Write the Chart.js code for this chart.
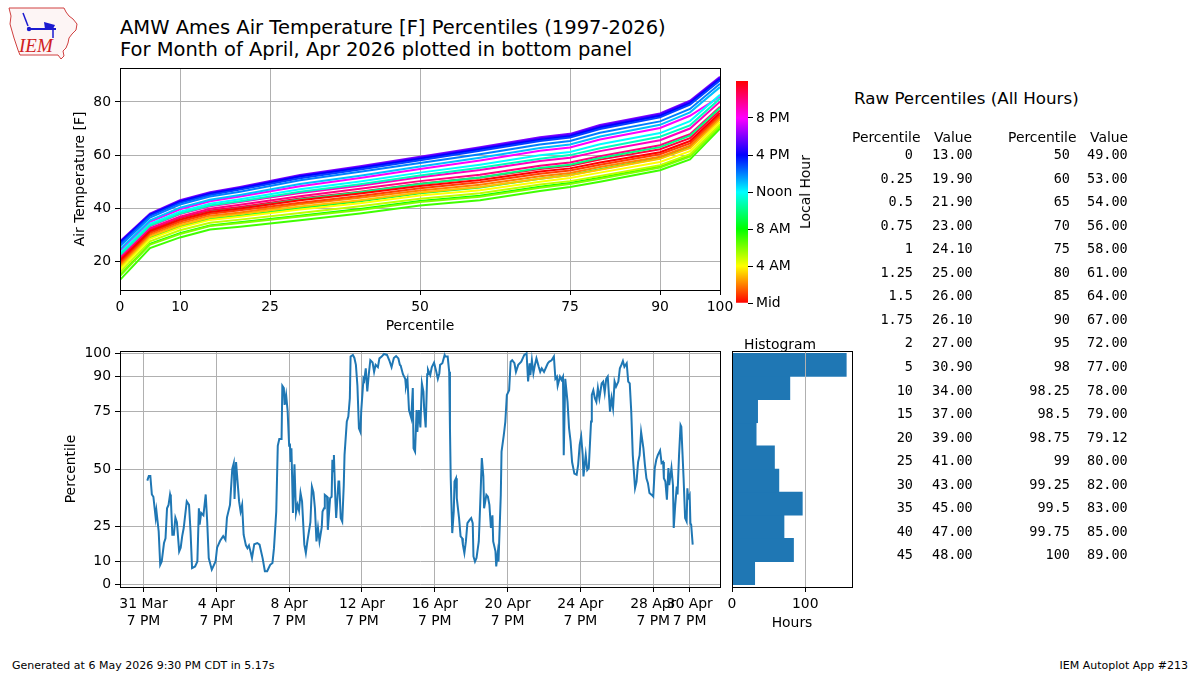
<!DOCTYPE html>
<html>
<head>
<meta charset="utf-8">
<title>AMW Ames Air Temperature Percentiles</title>
<script src="https://cdn.jsdelivr.net/npm/chart.js@4.4.1/dist/chart.umd.min.js"></script>
<style>
  body { margin: 0; background: #fff; font-family: "DejaVu Sans", sans-serif; color: #000; }
  #page { position: relative; width: 1200px; height: 675px; overflow: hidden; background: #fff; }
  canvas { position: absolute; }
  .txt { position: absolute; white-space: nowrap; }
  .title { left: 120px; font-size: 19.5px; line-height: 22px; }
  .mono { font-family: "DejaVu Sans Mono", monospace; font-size: 13.5px; line-height: 16px; }
  .sans { font-size: 13.9px; line-height: 16px; }
</style>
</head>
<body>
<div id="page">
  <svg class="txt" style="left:6px;top:4px" width="76" height="56" viewBox="0 0 76 56">
    <path d="M3,4 L58,4 L60,8 L63,12 L67,15 L71,20 L70,26 L66,30 L63,34 L62,39 L60,44 L57,47 L58,52 L55,55 L52,51 L14,51 L12,46 L10,40 L8,34 L6,27 L4,20 L5,12 Z"
          fill="#fdf5f5" stroke="#d04040" stroke-width="1"/>
    <line x1="17" y1="9" x2="22" y2="22" stroke="#1a1ad0" stroke-width="1.5"/>
    <circle cx="23" cy="25" r="2.2" fill="#1a1ad0"/>
    <line x1="23" y1="25" x2="50" y2="25" stroke="#1a1ad0" stroke-width="2"/>
    <polygon points="38,18 49,21 47,25 39,25" fill="#1a1ad0"/>
    <line x1="47" y1="25" x2="47" y2="34" stroke="#1a1ad0" stroke-width="1.5"/>
    <text x="13" y="48" font-family="Liberation Serif" font-style="italic" font-size="19" fill="#d02020">IEM</text>
  </svg>
  <div class="txt title" style="top:17px">AMW Ames Air Temperature [F] Percentiles (1997-2026)</div>
  <div class="txt title" style="top:39px">For Month of April, Apr 2026 plotted in bottom panel</div>

  <canvas id="topChart" width="745" height="275" style="left:0px;top:60px;width:745px;height:275px"></canvas>
  <canvas id="barChart" width="100" height="250" style="left:725px;top:70px;width:100px;height:250px"></canvas>
  <div class="txt sans" style="left:805px;top:192px;transform:translate(-50%,-50%) rotate(-90deg)">Local Hour</div>

  <canvas id="seriesChart" width="730" height="300" style="left:0px;top:340px;width:730px;height:300px"></canvas>
  <canvas id="histChart" width="135" height="300" style="left:725px;top:340px;width:135px;height:300px"></canvas>
  <div class="txt sans" style="left:744px;top:336px">Histogram</div>

  <div class="txt" style="left:854px;top:88px;font-size:16.7px;line-height:20px">Raw Percentiles (All Hours)</div>
  <div id="table"></div>

  <div class="txt" style="left:12px;top:659px;font-size:11px;line-height:14px">Generated at 6 May 2026 9:30 PM CDT in 5.17s</div>
  <div class="txt" style="right:12px;top:659px;font-size:11px;line-height:14px">IEM Autoplot App #213</div>
</div>

<script>
// Top panel: hourly temperature percentile curves
const topPercentiles = [0, 5, 10, 15, 20, 30, 40, 50, 60, 70, 75, 80, 90, 95, 100];
const topXTicks = [0, 10, 25, 50, 75, 90, 100];
const topYTicks = [20, 40, 60, 80];

const h00 = [20.3, 31.4, 35.7, 38.6, 39.9, 43.0, 45.5, 48.4, 50.6, 53.8, 55.0, 57.2, 61.1, 65.3, 75.9];
const h01 = [19.5, 30.7, 35.0, 37.9, 39.2, 42.1, 44.6, 47.5, 49.8, 53.0, 54.2, 56.4, 60.3, 64.4, 75.1];
const h02 = [18.8, 30.1, 34.3, 37.2, 38.4, 41.5, 43.9, 46.7, 48.8, 52.0, 53.3, 55.5, 59.4, 63.5, 74.3];
const h03 = [18.1, 29.4, 33.6, 36.5, 37.8, 40.6, 43.0, 45.9, 48.0, 51.1, 52.4, 54.5, 58.6, 62.6, 73.5];
const h04 = [17.1, 28.5, 32.7, 35.6, 36.8, 39.5, 41.9, 44.8, 46.8, 50.0, 51.4, 53.4, 57.4, 61.5, 72.5];
const h05 = [15.9, 27.5, 31.7, 34.5, 35.7, 38.2, 40.7, 43.6, 45.6, 48.9, 50.2, 52.1, 56.2, 60.3, 71.6];
const h06 = [14.5, 26.3, 30.3, 33.3, 34.4, 36.9, 39.3, 42.3, 44.3, 47.7, 49.1, 51.1, 55.3, 59.4, 70.8];
const h07 = [13.0, 25.0, 29.0, 32.0, 33.0, 35.5, 38.0, 41.0, 43.0, 46.5, 48.0, 50.0, 54.3, 58.4, 70.0];
const h08 = [14.7, 26.6, 30.6, 33.5, 34.7, 37.2, 39.7, 42.7, 44.7, 48.1, 49.5, 51.5, 55.7, 59.8, 71.2];
const h09 = [17.4, 28.9, 33.1, 36.0, 37.2, 40.1, 42.6, 45.6, 47.8, 51.1, 52.5, 54.7, 58.8, 62.9, 73.9];
const h10 = [20.0, 31.2, 35.6, 38.6, 39.9, 43.3, 46.0, 49.1, 51.6, 55.1, 56.4, 58.9, 63.0, 67.3, 77.8];
const h11 = [22.4, 33.5, 38.0, 41.0, 42.6, 46.2, 49.0, 52.3, 55.2, 58.6, 60.0, 62.6, 66.9, 71.2, 81.3];
const h12 = [23.2, 34.1, 38.7, 41.7, 43.4, 47.1, 50.1, 53.4, 56.4, 59.9, 61.2, 64.1, 68.3, 72.8, 82.7];
const h13 = [24.6, 35.4, 40.2, 43.2, 45.0, 49.1, 52.2, 55.7, 59.0, 62.7, 64.0, 67.0, 71.4, 76.1, 85.6];
const h14 = [25.8, 36.5, 41.4, 44.4, 46.2, 50.5, 53.7, 57.0, 60.3, 64.0, 65.3, 68.4, 72.7, 77.4, 86.9];
const h15 = [26.5, 37.1, 42.0, 45.0, 47.0, 51.3, 54.6, 58.1, 61.6, 65.3, 66.6, 69.8, 74.2, 79.0, 88.1];
const h16 = [27.0, 37.5, 42.5, 45.5, 47.4, 51.9, 55.1, 58.6, 62.2, 65.8, 67.1, 70.4, 74.8, 79.6, 88.6];
const h17 = [27.2, 37.7, 42.7, 45.7, 47.7, 52.2, 55.4, 59.0, 62.6, 66.3, 67.6, 70.9, 75.3, 80.1, 89.1];
const h18 = [27.5, 38.0, 43.0, 46.0, 48.0, 52.5, 55.8, 59.4, 63.0, 66.7, 68.0, 71.3, 75.7, 80.5, 89.5];
const h19 = [27.0, 37.5, 42.5, 45.5, 47.4, 51.9, 55.1, 58.6, 62.2, 65.8, 67.1, 70.4, 74.8, 79.6, 88.6];
const h20 = [24.0, 34.9, 39.6, 42.6, 44.4, 48.3, 51.4, 54.8, 58.0, 61.6, 62.9, 65.9, 70.2, 74.8, 82.0];
const h21 = [22.3, 33.2, 37.8, 40.7, 42.3, 45.7, 48.5, 51.7, 54.4, 57.8, 59.0, 61.5, 65.6, 70.0, 80.1];
const h22 = [21.4, 32.4, 36.8, 39.8, 41.3, 44.5, 47.3, 50.2, 52.6, 56.0, 57.2, 59.6, 63.7, 67.9, 78.2];
const h23 = [20.8, 31.9, 36.3, 39.1, 40.5, 43.7, 46.2, 49.2, 51.6, 54.8, 56.0, 58.3, 62.2, 66.4, 76.8];
const hourTemps = [h00, h01, h02, h03, h04, h05, h06, h07, h08, h09, h10, h11,
                   h12, h13, h14, h15, h16, h17, h18, h19, h20, h21, h22, h23];

// Colorbar
const colorbarTicks = [0, 4, 8, 12, 16, 20];
const colorbarLabels = ["Mid", "4 AM", "8 AM", "Noon", "4 PM", "8 PM"];

// Bottom panel: hourly percentile for April 2026 (hours since 1 Apr 00 local)
const seriesHour = [0, 2, 4, 6, 8, 11, 12, 13, 15, 17, 19, 22, 24, 26, 28, 30, 31, 33, 35, 37, 39, 42, 44, 46, 48,
  52, 55, 57, 59, 63, 66, 68, 69, 71, 74, 77, 79, 81, 85, 90, 92, 96, 100, 103, 105, 109, 112, 114, 115, 117, 118,
  121, 123, 125, 127, 130, 132, 134, 136, 138, 141, 145, 148, 152, 155, 158, 162, 165, 167, 170, 172, 174, 177, 178,
  180, 181, 183, 185, 187, 188, 189, 190, 192, 194, 196, 198, 200, 202, 204, 207, 209, 211, 215, 217, 219, 221, 223,
  225, 227, 230, 231, 233, 234, 237, 238, 241, 243, 244, 245, 246, 248, 249, 252, 253, 255, 257, 259, 260, 263, 265,
  267, 268, 271, 273, 275, 277, 279, 281, 282, 285, 286, 288, 290, 292, 294, 297, 299, 301, 304, 306, 309, 312, 316,
  319, 322, 325, 328, 331, 333, 334, 337, 340, 341, 343, 345, 348, 350, 351, 353, 355, 356, 358, 360, 362, 364, 365,
  367, 369, 370, 373, 375, 378, 381, 383, 385, 386, 389, 392, 393, 396, 398, 399, 400, 402, 404, 405, 407, 408, 411,
  413, 415, 416, 418, 420, 422, 425, 427, 429, 430, 432, 434, 437, 439, 441, 443, 444, 447, 449, 451, 453, 455, 456,
  459, 460, 462, 463, 466, 467, 470, 472, 474, 477, 479, 481, 484, 486, 489, 493, 497, 500, 502, 504, 505, 507, 509,
  511, 513, 516, 518, 520, 523, 526, 528, 530, 533, 536, 538, 540, 541, 544, 546, 548, 549, 551, 554, 556, 558, 560,
  563, 566, 568, 570, 572, 574, 575, 578, 580, 582, 585, 586, 588, 590, 592, 594, 596, 599, 601, 603, 605, 607, 610,
  612, 614, 616, 618, 621, 623, 625, 627, 629, 632, 634, 636, 638, 640, 643, 645, 647, 649, 651, 654, 656, 658, 660,
  662, 665, 667, 669, 671, 673, 676, 678, 680, 681, 683, 685, 687, 688, 691, 693, 694, 696, 698, 699, 701, 703, 704,
  707, 709, 711, 712, 713, 715, 716, 717, 719];
const seriesPct = [45, 47, 47, 39, 38, 29, 32, 29, 23, 8.6, 10, 18, 20, 33, 34.5, 39, 37.5, 21.6, 21.6, 29, 27, 14.4, 16, 21, 24.5,
  36, 34.5, 23, 7.2, 7.9, 10, 33, 26, 31, 30, 39, 27, 11.5, 6.5, 10, 16, 19, 21, 19.4, 29, 34.5, 50, 52.5, 37, 53, 53,
  36, 31.6, 34.5, 21.6, 17, 15.8, 17, 14.4, 11.5, 17.5, 18, 17.3, 11.5, 5.8, 5.8, 8.6, 9.4, 15.8, 31.6, 60, 63, 63, 86,
  85, 77.7, 82, 75, 60, 61, 53, 59, 31, 52, 31, 34.5, 32, 39.6, 36, 17.3, 13.7, 18.7, 27, 42.4, 40, 33, 18.7,
  24.5, 18.7, 25, 31.6, 33, 38.8, 38, 23.7, 37.4, 38, 54, 49, 56, 36, 28.8, 44.6, 44.6, 28.8, 27.3, 43, 56, 70.5, 72.7,
  80.6, 98.6, 99.3, 98, 95, 86, 67.6, 66, 75, 89, 88.3, 93.5, 83.5, 91, 97, 96, 92, 95, 94, 97.8, 98.6, 99.7, 99.3,
  97, 94, 98, 98.8, 97.8, 95, 94.7, 91, 89, 85.6, 88.5, 75.5, 72, 85, 59, 57.5, 75.5, 66, 75.5, 68, 87, 83.5, 76,
  68, 91, 93, 90.6, 94, 96, 92, 89, 91.4, 95, 95.7, 99.3, 98.6, 98.6, 92, 67.6, 46, 22.3, 31.6, 44.6, 46, 37.4, 28.8,
  20.9, 20.1, 17.3, 13.7, 18.7, 26.6, 28, 28.8, 26.6, 12.2, 10, 11.5, 18.7, 36, 54.7, 46.8, 33, 38.8, 38, 34.5, 24.5, 30, 18.7,
  14.4, 7.9, 13.7, 10, 38.8, 57.5, 64.7, 70.5, 82, 84, 96.4, 97, 95.7, 92, 95, 96.4, 99.3, 100, 87.8, 95.7, 90.6, 97, 91.4,
  95, 97.8, 94.2, 92, 93.5, 92, 94.2, 95.7, 96.4, 97, 98.6, 89, 89.9, 86, 89.9, 88.5, 89.9, 56, 89, 79, 67.6, 62, 53,
  48, 47.5, 51.8, 60.4, 64, 56, 46.8, 56, 49.6, 50.4, 70.5, 82, 84, 80.6, 79, 85, 80.6, 87, 87.8, 83, 89, 90, 74.8,
  80.6, 76.3, 87.8, 85.6, 87.8, 93.5, 95, 96.7, 94.2, 95.7, 87.8, 87, 74.8, 56, 41.7, 44.6, 53, 56, 66, 59, 51.8, 46, 43.9,
  39.6, 38.8, 38.1, 50.4, 54, 56, 58, 52.5, 53, 46, 44.6, 36.7, 50.4, 43, 50.4, 43, 24.5, 34.5, 42.4, 39, 56, 69, 68.3,
  46, 28.8, 27.3, 41.7, 37.4, 38.8, 26.6, 25.9, 17.3];
const seriesXTicks = [-5, 91, 187, 283, 379, 475, 571, 667, 715];
const seriesXLabels = [["31 Mar", "7 PM"], ["4 Apr", "7 PM"], ["8 Apr", "7 PM"], ["12 Apr", "7 PM"], ["16 Apr", "7 PM"],
  ["20 Apr", "7 PM"], ["24 Apr", "7 PM"], ["28 Apr", "7 PM"], ["30 Apr", "7 PM"]];
const seriesYTicks = [0, 10, 25, 50, 75, 90, 100];

// Histogram of hours per 10-percentile bin
const histBinCenters = [5, 15, 25, 35, 45, 55, 65, 75, 85, 95];
const histHours = [31, 84, 71, 96, 64, 58, 33, 35, 79, 156];
const histXTicks = [0, 100];

// Raw percentile table
const tablePctLeft = [0, 0.25, 0.5, 0.75, 1, 1.25, 1.5, 1.75, 2, 5, 10, 15, 20, 25, 30, 35, 40, 45];
const tableValLeft = [13.00, 19.90, 21.90, 23.00, 24.10, 25.00, 26.00, 26.10, 27.00, 30.90, 34.00, 37.00, 39.00, 41.00, 43.00, 45.00, 47.00, 48.00];
const tablePctRight = [50, 60, 65, 70, 75, 80, 85, 90, 95, 98, 98.25, 98.5, 98.75, 99, 99.25, 99.5, 99.75, 100];
const tableValRight = [49.00, 53.00, 54.00, 56.00, 58.00, 61.00, 64.00, 67.00, 72.00, 77.00, 78.00, 79.00, 79.12, 80.00, 82.00, 83.00, 85.00, 89.00];

Chart.defaults.font.family = "DejaVu Sans";
Chart.defaults.font.size = 13.9;
Chart.defaults.color = "#000";
Chart.defaults.animation = false;

const GRID = "#b0b0b0";

function hourColor(h) {
    return `hsl(${h * 15}, 100%, 50%)`;
}

// Black box around the plot area, plus optional grid lines drawn over bars
const framePlugin = {
    id: "frame",
    afterDatasetsDraw(chart, args, opts) {
        const { ctx, chartArea: a } = chart;
        ctx.save();
        if (opts.overX) {
            const sx = chart.scales.x;
            ctx.strokeStyle = GRID;
            ctx.lineWidth = 1;
            opts.overX.forEach(v => {
                const px = Math.round(sx.getPixelForValue(v)) + 0.5;
                ctx.beginPath();
                ctx.moveTo(px, a.top);
                ctx.lineTo(px, a.bottom);
                ctx.stroke();
            });
        }
        ctx.strokeStyle = "#000";
        ctx.lineWidth = 1;
        ctx.strokeRect(Math.round(a.left) + 0.5, Math.round(a.top) + 0.5,
            Math.round(a.right - a.left), Math.round(a.bottom - a.top));
        ctx.restore();
    }
};

function fixedTicks(values) {
    return axis => { axis.ticks = values.map(v => ({ value: v })); };
}

// Force an axis to a set thickness and stop it pushing the plot area around
function fixedSize(size) {
    return s => {
        if (s.isHorizontal()) s.height = size; else s.width = size;
        s.paddingLeft = 0; s.paddingRight = 0; s.paddingTop = 0; s.paddingBottom = 0;
    };
}

const axisGrid = { color: GRID, lineWidth: 1, tickColor: "#000", tickLength: 5 };

// Top chart
new Chart(document.getElementById("topChart"), {
    type: "line",
    data: {
        datasets: hourTemps.map((row, h) => ({
            label: "Hour " + h,
            data: topPercentiles.map((p, i) => ({ x: p, y: row[i] })),
            borderColor: hourColor(h),
            borderWidth: 2,
            pointRadius: 0,
            tension: 0
        }))
    },
    options: {
        responsive: false,
        layout: { padding: { left: 71.7, top: 8, right: 25, bottom: 0 } },
        plugins: { legend: { display: false }, tooltip: { enabled: false } },
        scales: {
            x: {
                type: "linear", min: 0, max: 100,
                afterBuildTicks: fixedTicks(topXTicks),
                afterFit: fixedSize(45),
                grid: axisGrid,
                border: { color: "#000" },
                ticks: { padding: 4, maxRotation: 0, autoSkip: false },
                title: { display: true, text: "Percentile", padding: 0 }
            },
            y: {
                type: "linear", min: 9.2, max: 92.8,
                afterBuildTicks: fixedTicks(topYTicks),
                afterFit: fixedSize(48.3),
                grid: axisGrid,
                border: { color: "#000" },
                ticks: { padding: 4 },
                title: { display: true, text: "Air Temperature [F]", padding: 0 }
            }
        }
    },
    plugins: [framePlugin]
});

// Colorbar for local hour
new Chart(document.getElementById("barChart"), {
    type: "bar",
    data: {
        labels: [""],
        datasets: [{
            data: [[0, 24]],
            barPercentage: 1,
            categoryPercentage: 1,
            backgroundColor: ctx => {
                const area = ctx.chart.chartArea;
                if (!area) return hourColor(0);
                const g = ctx.chart.ctx.createLinearGradient(0, area.bottom, 0, area.top);
                for (let h = 0; h <= 24; h++) g.addColorStop(h / 24, hourColor(h));
                return g;
            }
        }]
    },
    options: {
        responsive: false,
        layout: { padding: { left: 11, top: 11, right: 27, bottom: 17 } },
        plugins: { legend: { display: false }, tooltip: { enabled: false } },
        scales: {
            x: { display: false },
            y: {
                position: "right", min: 0, max: 24,
                afterBuildTicks: fixedTicks(colorbarTicks),
                afterFit: fixedSize(50),
                grid: { drawOnChartArea: false, tickColor: "#000", tickLength: 5 },
                border: { display: false },
                ticks: { padding: 3, callback: (v, i) => colorbarLabels[i] }
            }
        }
    }
});

// Bottom time series
new Chart(document.getElementById("seriesChart"), {
    type: "line",
    data: {
        datasets: [{
            label: "Percentile",
            data: seriesHour.map((h, i) => ({ x: h, y: seriesPct[i] })),
            borderColor: "#1f77b4",
            borderWidth: 2,
            pointRadius: 0,
            tension: 0
        }]
    },
    options: {
        responsive: false,
        layout: { padding: { left: 62.7, top: 11, right: 10, bottom: 0 } },
        plugins: { legend: { display: false }, tooltip: { enabled: false } },
        scales: {
            x: {
                type: "linear", min: -36, max: 755,
                afterBuildTicks: fixedTicks(seriesXTicks),
                afterFit: fixedSize(53),
                grid: axisGrid,
                border: { color: "#000" },
                ticks: { padding: 4, maxRotation: 0, autoSkip: false, callback: (v, i) => seriesXLabels[i] }
            },
            y: {
                type: "linear", min: -1, max: 101,
                afterBuildTicks: fixedTicks(seriesYTicks),
                afterFit: fixedSize(57.3),
                grid: axisGrid,
                border: { color: "#000" },
                ticks: { padding: 4 },
                title: { display: true, text: "Percentile", padding: 0 }
            }
        }
    },
    plugins: [framePlugin]
});

// Histogram
new Chart(document.getElementById("histChart"), {
    type: "bar",
    data: {
        datasets: [{
            label: "Hours",
            data: histBinCenters.map((c, i) => ({ y: c, x: histHours[i] })),
            backgroundColor: "#1f77b4",
            barPercentage: 1,
            categoryPercentage: 1
        }]
    },
    options: {
        responsive: false,
        indexAxis: "y",
        layout: { padding: { left: 7, top: 11, right: 8, bottom: 8.7 } },
        plugins: { legend: { display: false }, tooltip: { enabled: false }, frame: { overX: [100] } },
        scales: {
            x: {
                type: "linear", min: 0, max: 163.8, offset: false,
                afterBuildTicks: fixedTicks(histXTicks),
                afterFit: fixedSize(44.3),
                grid: { display: true, offset: false, drawOnChartArea: false, tickColor: "#000", tickLength: 5 },
                border: { color: "#000" },
                ticks: { padding: 4, maxRotation: 0, autoSkip: false },
                title: { display: true, text: "Hours", padding: 0 }
            },
            y: {
                type: "linear", min: -1, max: 101, display: false, offset: false,
                grid: { offset: false }
            }
        }
    },
    plugins: [framePlugin]
});

// Percentile table as text
const table = document.getElementById("table");
function addText(cls, text, left, centerY, width, align) {
    const d = document.createElement("div");
    d.className = "txt " + cls;
    d.textContent = text;
    d.style.left = left + "px";
    d.style.top = (centerY - 8) + "px";
    if (width) { d.style.width = width + "px"; d.style.textAlign = align; }
    table.appendChild(d);
}
addText("sans", "Percentile", 852, 137);
addText("sans", "Value", 934, 137);
addText("sans", "Percentile", 1008, 137);
addText("sans", "Value", 1090, 137);
tablePctLeft.forEach((p, i) => {
    const y = 154 + 23.55 * i;
    addText("mono", String(p), 853, y, 60, "right");
    addText("mono", tableValLeft[i].toFixed(2), 932, y);
    addText("mono", String(tablePctRight[i]), 1010, y, 60, "right");
    addText("mono", tableValRight[i].toFixed(2), 1087, y);
});
</script>
</body>
</html>
